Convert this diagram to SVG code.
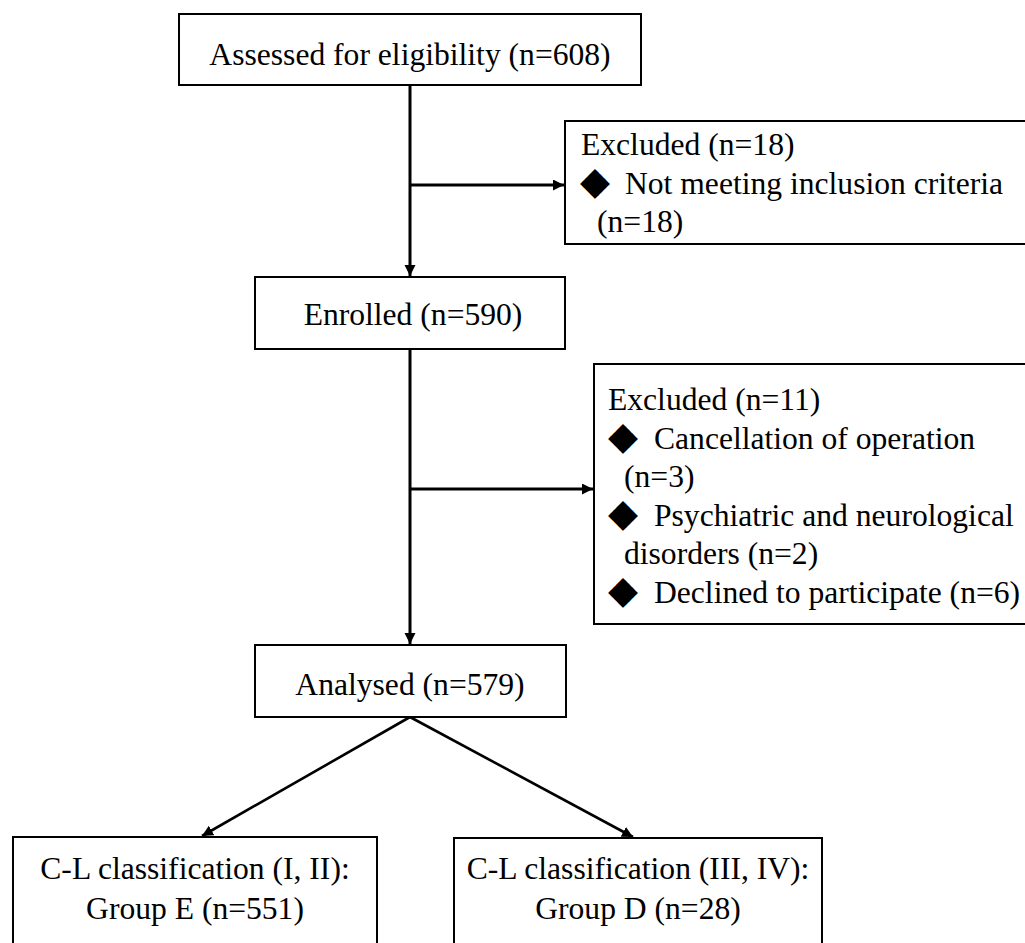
<svg xmlns="http://www.w3.org/2000/svg" width="1025" height="943" viewBox="0 0 1025 943">
<style>
.box{fill:#fff;stroke:#000;stroke-width:2}
.t{font-family:"Liberation Serif","Times New Roman",serif;font-size:31.6px;fill:#000}
.c{text-anchor:middle}
.b{font-family:"DejaVu Sans",sans-serif;font-size:39px;fill:#000}
.ln{stroke:#000;stroke-width:3;fill:none}
.dg{stroke:#000;stroke-width:2.6;fill:none}
</style>
<defs>
<marker id="ah" markerUnits="userSpaceOnUse" markerWidth="12" markerHeight="12" refX="11" refY="5.5" orient="auto">
<path d="M0,0 L11,5.5 L0,11 z" fill="#000"/>
</marker>
</defs>
<rect width="1025" height="943" fill="#fff"/>
<g id="connectors">
<line class="ln" x1="410" y1="85" x2="410" y2="276" marker-end="url(#ah)"/>
<line class="ln" x1="410" y1="185" x2="564" y2="185" marker-end="url(#ah)"/>
<line class="ln" x1="410" y1="349" x2="410" y2="644" marker-end="url(#ah)"/>
<line class="ln" x1="410" y1="489" x2="593" y2="489" marker-end="url(#ah)"/>
<line class="dg" x1="410" y1="717" x2="202" y2="836" marker-end="url(#ah)"/>
<line class="dg" x1="410" y1="717" x2="633" y2="837" marker-end="url(#ah)"/>
</g>
<g id="assessed">
<rect class="box" x="179" y="14" width="462" height="71"/>
<text class="t c" x="410" y="65">Assessed for eligibility (n=608)</text>
</g>
<g id="excluded1">
<rect class="box" x="565" y="121" width="470" height="123"/>
<text class="t" x="581" y="155">Excluded (n=18)</text>
<text class="b" x="580" y="194">◆</text>
<text class="t" x="625" y="193.5">Not meeting inclusion criteria</text>
<text class="t" x="597" y="232">(n=18)</text>
</g>
<g id="enrolled">
<rect class="box" x="255" y="277" width="310" height="72"/>
<text class="t c" x="413" y="325">Enrolled (n=590)</text>
</g>
<g id="excluded2">
<rect class="box" x="594" y="364" width="440" height="260"/>
<text class="t" x="608" y="410">Excluded (n=11)</text>
<text class="b" x="608" y="449">◆</text>
<text class="t" x="654" y="448.5">Cancellation of operation</text>
<text class="t" x="624" y="487">(n=3)</text>
<text class="b" x="608" y="526">◆</text>
<text class="t" x="654" y="525.5">Psychiatric and neurological</text>
<text class="t" x="624" y="564">disorders (n=2)</text>
<text class="b" x="608" y="603">◆</text>
<text class="t" x="654" y="602.5">Declined to participate (n=6)</text>
</g>
<g id="analysed">
<rect class="box" x="255" y="645" width="311" height="72"/>
<text class="t c" x="410" y="695">Analysed (n=579)</text>
</g>
<g id="groupE">
<rect class="box" x="13" y="837" width="364" height="120"/>
<text class="t c" x="195" y="879">C-L classification (I, II):</text>
<text class="t c" x="195" y="919">Group E (n=551)</text>
</g>
<g id="groupD">
<rect class="box" x="454" y="838" width="368" height="120"/>
<text class="t c" x="638" y="879">C-L classification (III, IV):</text>
<text class="t c" x="638" y="919">Group D (n=28)</text>
</g>
</svg>
